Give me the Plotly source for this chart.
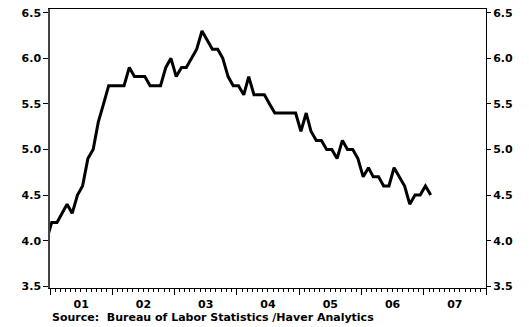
import plotly.graph_objects as go

# Monthly unemployment rate (%), Dec 2000 - Feb 2007
start_month = "2000-12"
rate = [
    4.0,
    4.2, 4.2, 4.3, 4.4, 4.3, 4.5, 4.6, 4.9, 5.0, 5.3, 5.5, 5.7,
    5.7, 5.7, 5.7, 5.9, 5.8, 5.8, 5.8, 5.7, 5.7, 5.7, 5.9, 6.0,
    5.8, 5.9, 5.9, 6.0, 6.1, 6.3, 6.2, 6.1, 6.1, 6.0, 5.8, 5.7,
    5.7, 5.6, 5.8, 5.6, 5.6, 5.6, 5.5, 5.4, 5.4, 5.4, 5.4, 5.4,
    5.2, 5.4, 5.2, 5.1, 5.1, 5.0, 5.0, 4.9, 5.1, 5.0, 5.0, 4.9,
    4.7, 4.8, 4.7, 4.7, 4.6, 4.6, 4.8, 4.7, 4.6, 4.4, 4.5, 4.5,
    4.6, 4.5,
]
y_ticks = [3.5, 4.0, 4.5, 5.0, 5.5, 6.0, 6.5]
source_text = "Source:\u00a0 Bureau of Labor Statistics /Haver Analytics"

# dates: plotted ~10 days into each month
dates = []
y0, m0 = 2000, 12
for i in range(len(rate)):
    m = m0 - 1 + i
    yy = y0 + m // 12
    mm = m % 12 + 1
    dates.append(f"{yy:04d}-{mm:02d}-11")

FONT = "DejaVu Sans"
fig = go.Figure()
fig.add_trace(go.Scatter(x=dates, y=rate, mode="lines",
                         line=dict(color="black", width=3),
                         hoverinfo="skip", showlegend=False))
fig.add_trace(go.Scatter(x=dates, y=rate, mode="lines", yaxis="y2",
                         line=dict(color="rgba(0,0,0,0)", width=0),
                         hoverinfo="skip", showlegend=False))

yrange = [3.481, 6.541]
fig.update_layout(
    width=529, height=327,
    margin=dict(l=50, r=43, t=9, b=39, autoexpand=False),
    paper_bgcolor="white", plot_bgcolor="white",
    font=dict(family=FONT, size=11, color="black"),
    xaxis=dict(
        type="date", range=["2001-01-01", "2008-01-01"], automargin=False,
        showgrid=False, zeroline=False,
        showline=True, linecolor="black", linewidth=1, mirror=True,
        ticks="outside", ticklen=6, tickcolor="black", tickwidth=1,
        dtick="M12", tick0="2001-01-01", tickformat="%y",
        ticklabelmode="period",
        tickfont=dict(family=FONT, size=11, color="black", weight="bold"),
        minor=dict(dtick="M1", tick0="2001-01-01", ticks="outside",
                   ticklen=3, tickcolor="black", tickwidth=1, showgrid=False),
    ),
    yaxis=dict(
        range=yrange, tickvals=y_ticks, tickformat=".1f", automargin=False,
        showgrid=False, zeroline=False,
        showline=True, linecolor="#444444", linewidth=1.5,
        ticks="outside", ticklen=5, tickcolor="black",
        tickfont=dict(family=FONT, size=11, color="black", weight="bold"),
    ),
    yaxis2=dict(
        range=yrange, tickvals=y_ticks, tickformat=".1f", automargin=False,
        overlaying="y", side="right",
        showgrid=False, zeroline=False,
        showline=True, linecolor="black", linewidth=1,
        ticks="outside", ticklen=4, tickcolor="black",
        tickfont=dict(family=FONT, size=11, color="black", weight="bold"),
    ),
    annotations=[dict(
        text=source_text, xref="paper", yref="paper", x=0, y=-0.105,
        xanchor="left", yanchor="middle", showarrow=False,
        font=dict(family=FONT, size=11, color="black", weight="bold"),
    )],
)

fig.write_html(
    "out.html",
    config={"displayModeBar": False},
    post_script="document.body.style.margin='0';document.body.style.padding='0';",
)
